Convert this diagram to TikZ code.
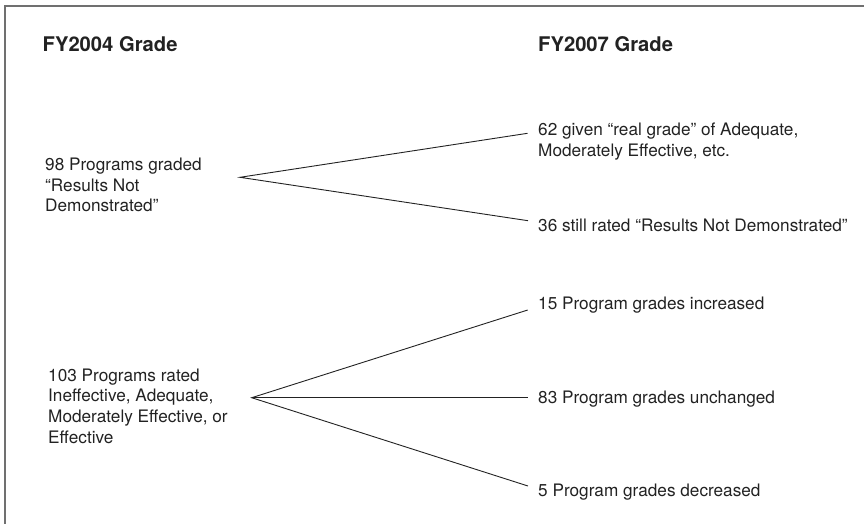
\documentclass[tikz,border=0pt]{standalone}
\usepackage{fontspec}
\setmainfont{TeX Gyre Heros}
\definecolor{ink}{HTML}{222222}
\definecolor{framec}{HTML}{707070}
\begin{document}
\begin{tikzpicture}[x=1pt,y=-1pt,
  txt/.style={anchor=base west,inner sep=0pt,text=ink,font=\fontsize{17.2}{20.6}\selectfont},
  head/.style={anchor=base west,inner sep=0pt,text=ink,font=\fontsize{20.2}{22}\selectfont\bfseries},
  conn/.style={draw=ink,line width=0.9pt}]
\useasboundingbox (0,0) rectangle (864,523);
\draw[framec,line width=1.5pt] (5,530) -- (5,6) -- (870,6);
\node[head] (h1) at (42.5,51.7) {FY2004 Grade};
\node[head] (h2) at (538,51.7) {FY2007 Grade};
\node[txt] (a) at (45,170.5) {\begin{tabular}[t]{@{}l@{}}98 Programs graded\\“Results Not\\Demonstrated”\end{tabular}};
\node[txt] (b) at (48,381.3) {\begin{tabular}[t]{@{}l@{}}103 Programs rated\\Ineffective, Adequate,\\Moderately Effective, or\\Effective\end{tabular}};
\node[txt] (a1) at (538,135.5) {\begin{tabular}[t]{@{}l@{}}62 given “real grade” of Adequate,\\Moderately Effective, etc.\end{tabular}};
\node[txt] (a2) at (538,231.5) {36 still rated “Results Not Demonstrated”};
\node[txt] (b1) at (538,309.3) {15 Program grades increased};
\node[txt] (b2) at (538,403.2) {83 Program grades unchanged};
\node[txt] (b3) at (538,496.5) {5 Program grades decreased};
\coordinate (pa) at (240,177.3);
\coordinate (pb) at (251.7,397.7);
\coordinate (ea1) at (527.5,133.3);
\coordinate (ea2) at (528,220.7);
\coordinate (eb1) at (527.7,310);
\coordinate (eb2) at (528,397.7);
\coordinate (eb3) at (528,486);
\draw[conn] (ea1) -- (pa) -- (ea2);
\draw[conn] (eb1) -- (pb) -- (eb3);
\draw[conn] (pb) -- (eb2);
\end{tikzpicture}
\end{document}
